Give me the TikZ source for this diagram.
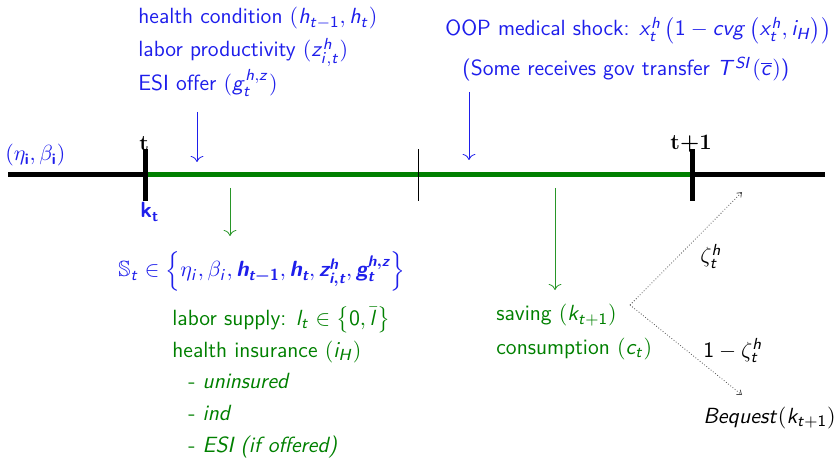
\documentclass[tikz,border=0pt]{standalone}
\usepackage{amsmath,amssymb}
\renewcommand{\familydefault}{\sfdefault}
\DeclareSymbolFont{sfletters}{OT1}{cmss}{m}{sl}
\SetSymbolFont{sfletters}{bold}{TU}{lmss}{bx}{sl}
\DeclareSymbolFont{sfops}{OT1}{cmss}{m}{n}
\SetSymbolFont{sfops}{bold}{OT1}{cmss}{bx}{n}
\newcount\mymc
\mymc=65 \loop \Umathcode\mymc=7 \symsfletters\mymc\relax \advance\mymc by 1 \ifnum\mymc<91 \repeat
\mymc=97 \loop \Umathcode\mymc=7 \symsfletters\mymc\relax \advance\mymc by 1 \ifnum\mymc<123 \repeat
\mymc=48 \loop \Umathcode\mymc=0 \symsfops\mymc\relax \advance\mymc by 1 \ifnum\mymc<58 \repeat
\usetikzlibrary{arrows.meta}
\definecolor{tblue}{RGB}{30,30,235}
\definecolor{tgreen}{RGB}{0,128,0}
\definecolor{lgreen}{RGB}{40,150,40}
\begin{document}
\begin{tikzpicture}[x=0.5pt,y=-0.5pt,
  font=\fontsize{11}{13.6}\selectfont,
  lbl/.style={anchor=base west, inner sep=0pt},
  bl/.style={lbl, text=tblue},
  gr/.style={lbl, text=tgreen},
  barr/.style={tblue, line width=0.4pt, -{To[length=3pt]}},
  garr/.style={lgreen, line width=0.4pt, -{To[length=3pt]}},
  darr/.style={black!70, densely dotted, line width=0.4pt, -{Straight Barb[length=2pt,width=3pt]}}]
\useasboundingbox (0,0) rectangle (836,460);
% timeline
\coordinate (L) at (8,175);
\coordinate (T0) at (145,175);
\coordinate (TM) at (418,175);
\coordinate (T1) at (692,175);
\coordinate (R) at (825,175);
\draw[line width=2.5pt] (L) -- (T0);
\draw[tgreen, line width=2.5pt] (T0) -- (T1);
\draw[line width=2.5pt] (T1) -- (R);
\draw[line width=2.5pt] ([yshift=-13]T0) -- ([yshift=13]T0);
\draw[line width=2.5pt] ([yshift=-13]T1) -- ([yshift=13]T1);
\draw[line width=0.5pt] ([yshift=-13]TM) -- ([yshift=13]TM);
% time labels
\node[lbl] (tl) at (139,151) {\rmfamily\bfseries t};
\node[lbl] (t1l) at (670,149) {\rmfamily\bfseries t+1};
\node[bl] (kt) at (140,218) {\bfseries k\textsubscript{t}};
\node[bl] (eb) at (5,161) {$(\eta_{\textbf{i}},\beta_{\textbf{i}})$};
% top-left blue text
\node[bl] (hc) at (138,24) {health condition $(h_{t-1},h_t)$};
\node[bl] (lp) at (138,57) {labor productivity $(z^h_{i,t})$};
\node[bl] (esi) at (138,91) {ESI offer $(g_t^{h,z})$};
\coordinate (a1s) at (197,112);
\coordinate (a1e) at (197,162);
\draw[barr] (a1s) -- (a1e);
% top-right blue text
\node[bl] (oop) at (445,36) {OOP medical shock: $x_t^h\left(1-cvg\left(x_t^h,i_H\right)\right)$};
\node[bl] (gov) at (462,76) {(Some receives gov transfer $T^{SI}(\overline{c})$)};
\coordinate (a2s) at (469,92);
\coordinate (a2e) at (469,160);
\draw[barr] (a2s) -- (a2e);
% state
\coordinate (a3s) at (230,188);
\coordinate (a3e) at (230,236);
\draw[garr] (a3s) -- (a3e);
\node[bl] (st) at (118,277) {$\mathbb{S}_t\in\left\{\eta_i,\beta_i,\boldsymbol{h_{t-1}},\boldsymbol{h_t},\boldsymbol{z^h_{i,t}},\boldsymbol{g_t^{h,z}}\right\}$};
% choices
\node[gr] (ls) at (172,325) {labor supply: $l_t\in\left\{0,\bar{l}\right\}$};
\node[gr] (hi) at (172,357) {health insurance $(i_H)$};
\node[gr] (un) at (188,388) {- \textit{uninsured}};
\node[gr] (ind) at (188,420) {- \textit{ind}};
\node[gr] (esio) at (188,452) {- \textit{ESI (if offered)}};
% saving
\coordinate (a4s) at (555,188);
\coordinate (a4e) at (555,290);
\draw[garr] (a4s) -- (a4e);
\node[gr] (sav) at (496,321) {saving $(k_{t+1})$};
\node[gr] (con) at (496,354) {consumption $(c_t)$};
% branches
\coordinate (br) at (630,305);
\coordinate (up) at (742,192);
\coordinate (dn) at (742,395);
\draw[darr] (br) -- (up);
\draw[darr] (br) -- (dn);
\node[lbl] (z1) at (700,263) {$\zeta_t^h$};
\node[lbl] (z2) at (703,357) {$1-\zeta_t^h$};
\node[lbl] (beq) at (703,423) {$Bequest(k_{t+1})$};
\end{tikzpicture}
\end{document}
